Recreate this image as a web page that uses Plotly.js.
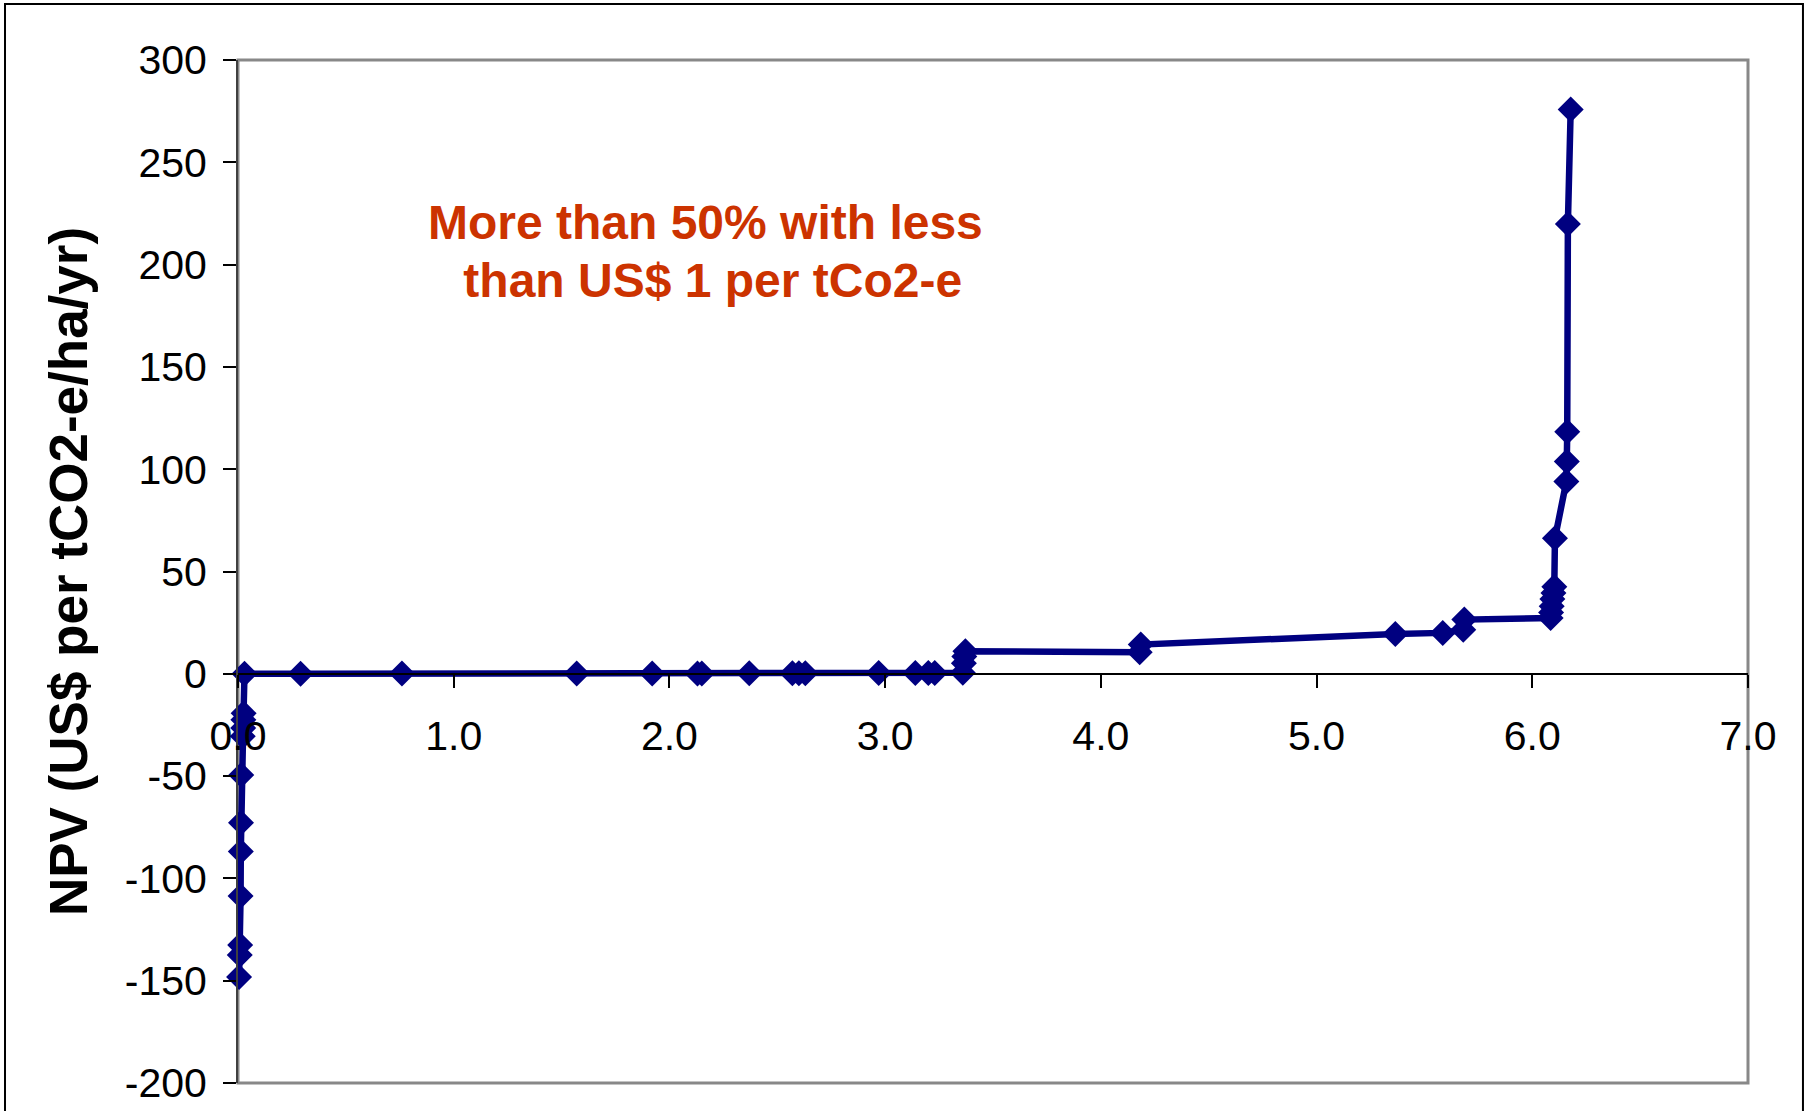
<!DOCTYPE html>
<html>
<head>
<meta charset="utf-8">
<script src="https://cdn.plot.ly/plotly-3.0.1.min.js"></script>
<style>html,body{margin:0;padding:0;background:#fff;}#chart{width:1809px;height:1111px;}</style>
</head>
<body>
<div id="chart"></div>
<script>
// Cumulative abatement (x) and NPV per tCO2-e (y), sorted by NPV
const xValues = [
  0.005, 0.008, 0.010, 0.012, 0.013, 0.014, 0.015, 0.022, 0.024, 0.025, 0.026,
  0.03, 0.29, 0.76, 1.57, 1.92, 2.13, 2.15, 2.37, 2.57, 2.60, 2.63, 2.97, 3.14, 3.20, 3.23, 3.36,
  3.365, 3.367, 3.372,
  4.18, 4.185,
  5.365, 5.585, 5.68, 5.685,
  6.085, 6.087, 6.090, 6.093, 6.098, 6.102, 6.105,
  6.158, 6.160, 6.162, 6.165, 6.178
];
const npvValues = [
  -148.2, -137.4, -132.5, -108.6, -86.9, -72.8, -49.5, -30.5, -26.5, -22.5, -19.3,
  0.0, 0.05, 0.1, 0.1, 0.15, 0.2, 0.2, 0.25, 0.3, 0.3, 0.3, 0.35, 0.4, 0.4, 0.45, 0.5,
  5.1, 8.4, 11.0,
  10.5, 14.3,
  19.5, 20.0, 21.5, 26.5,
  27.3, 30.0, 33.0, 36.5, 39.5, 42.5, 66.2,
  94.0, 103.8, 118.3, 219.8, 275.8
];
const xTickValues = [0, 1, 2, 3, 4, 5, 6, 7];
const xTickLabels = ["0.0", "1.0", "2.0", "3.0", "4.0", "5.0", "6.0", "7.0"];
const yTickValues = [-200, -150, -100, -50, 0, 50, 100, 150, 200, 250, 300];
const yTickLabels = ["-200", "-150", "-100", "-50", "0", "50", "100", "150", "200", "250", "300"];
const yTitle = "NPV (US$ per tCO2-e/ha/yr)";
const noteLine1 = "More than 50% with less";
const noteLine2 = " than US$ 1 per tCo2-e";

const FONT = "Arial, 'Liberation Sans', sans-serif";

const trace = {
  x: xValues,
  y: npvValues,
  type: "scatter",
  mode: "lines+markers",
  line: {color: "#000080", width: 6.5},
  marker: {symbol: "diamond", size: 20, color: "#000080", line: {width: 0}},
  cliponaxis: false,
  showlegend: false,
  hoverinfo: "x+y"
};

const layout = {
  width: 1809,
  height: 1111,
  margin: {l: 238, r: 61, t: 60, b: 28},
  paper_bgcolor: "#ffffff",
  plot_bgcolor: "#ffffff",
  font: {family: FONT, color: "#000000", size: 41},
  xaxis: {
    range: [0, 7],
    tickvals: xTickValues,
    ticktext: xTickLabels,
    showgrid: false,
    zeroline: false,
    showline: true,
    linecolor: "#000000",
    linewidth: 2,
    ticks: "outside",
    ticklen: 13,
    tickwidth: 2,
    tickcolor: "#000000",
    anchor: "free",
    position: 0.4,
    tickfont: {family: FONT, size: 41, color: "#000000"},
    ticklabelstandoff: 13
  },
  yaxis: {
    range: [-200, 300],
    tickvals: yTickValues,
    ticktext: yTickLabels,
    showgrid: false,
    zeroline: false,
    showline: true,
    linecolor: "#404040",
    linewidth: 2,
    ticks: "outside",
    ticklen: 13,
    tickwidth: 2,
    tickcolor: "#000000",
    tickfont: {family: FONT, size: 41, color: "#000000"},
    ticklabelstandoff: 8,
    title: {
      text: yTitle,
      font: {family: FONT, size: 53, color: "#000000", weight: "bold"},
      standoff: 20
    }
  },
  shapes: [
    {type: "rect", xref: "paper", yref: "paper", x0: 0, x1: 1, y0: 0, y1: 1,
     line: {color: "#888888", width: 3}, layer: "below"},
    {type: "rect", xref: "paper", yref: "paper", x0: -0.1543, x1: 1.0364, y0: -0.05, y1: 1.0547,
     line: {color: "#000000", width: 2}, layer: "below"}
  ],
  annotations: [
    {text: noteLine1, xref: "paper", yref: "paper", x: 0.3096, y: 0.841,
     xanchor: "center", yanchor: "middle", showarrow: false, align: "center",
     font: {family: FONT, size: 48, color: "#CC3300", weight: "bold"}},
    {text: noteLine2, xref: "paper", yref: "paper", x: 0.3098, y: 0.7847,
     xanchor: "center", yanchor: "middle", showarrow: false, align: "center",
     font: {family: FONT, size: 48, color: "#CC3300", weight: "bold"}}
  ]
};

Plotly.newPlot("chart", [trace], layout, {displayModeBar: false, staticPlot: true});
</script>
</body>
</html>
